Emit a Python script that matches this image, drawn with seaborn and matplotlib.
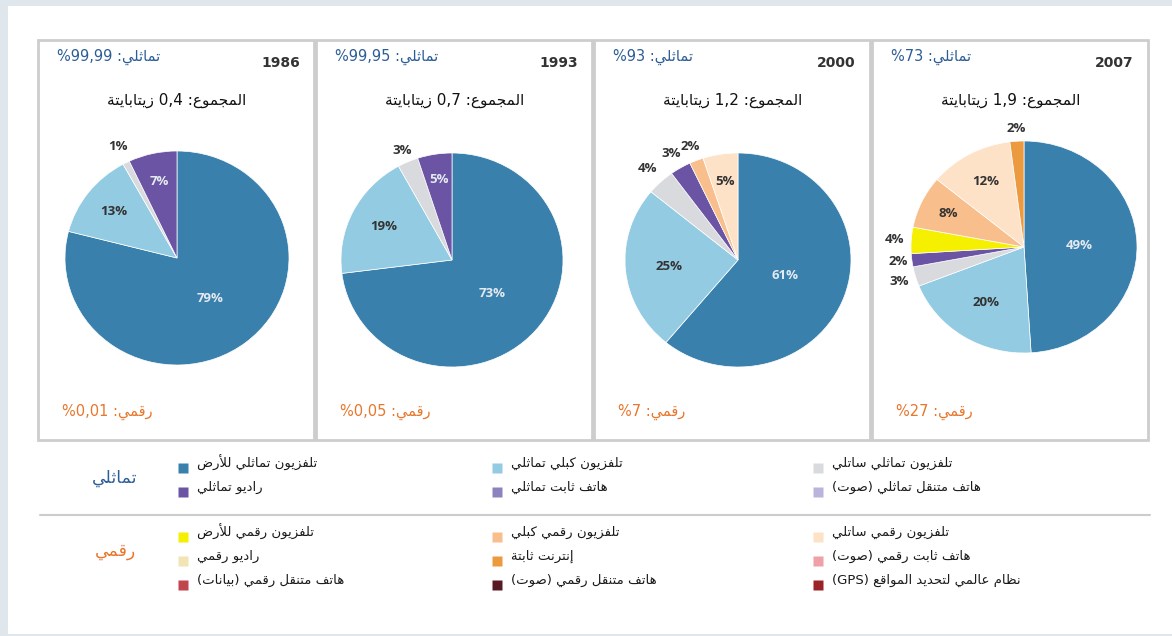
import matplotlib
matplotlib.use('Agg')
import matplotlib.pyplot as plt
import matplotlib.colors as mcolors
from matplotlib.patches import Rectangle
import numpy as np
import seaborn as sns

# ---- data -------------------------------------------------------------
years = ['1986', '1993', '2000', '2007']
analog_share = ['99,99%', '99,95%', '93%', '73%']
digital_share = ['0,01%', '0,05%', '7%', '27%']
totals = ['0,4', '0,7', '1,2', '1,9']

slices_1986 = [79, 13, 1, 7]
slices_1993 = [73, 19, 3, 5]
slices_2000 = [61, 25, 4, 3, 2, 5]
slices_2007 = [49, 20, 3, 2, 4, 8, 12, 2]
cats_1986 = ['a_terr', 'a_cable', 'a_sat', 'a_radio']
cats_1993 = ['a_terr', 'a_cable', 'a_sat', 'a_radio']
cats_2000 = ['a_terr', 'a_cable', 'a_sat', 'a_radio', 'd_cable', 'd_sat']
cats_2007 = ['a_terr', 'a_cable', 'a_sat', 'a_radio', 'd_terr', 'd_cable', 'd_sat', 'd_net']

analog_keys = ['a_terr', 'a_radio', 'a_cable', 'a_fixed', 'a_sat', 'a_mobile']
analog_labels = ['تلفزيون تماثلي للأرض', 'راديو تماثلي',
                 'تلفزيون كبلي تماثلي', 'هاتف ثابت تماثلي',
                 'تلفزيون تماثلي ساتلي', 'هاتف متنقل تماثلي (صوت)']
digital_keys = ['d_terr', 'd_radio', 'd_mdata', 'd_cable', 'd_net', 'd_mvoice',
                'd_sat', 'd_fixed', 'd_gps']
digital_labels = ['تلفزيون رقمي للأرض', 'راديو رقمي', 'هاتف متنقل رقمي (بيانات)',
                  'تلفزيون رقمي كبلي', 'إنترنت ثابتة', 'هاتف متنقل رقمي (صوت)',
                  'تلفزيون رقمي ساتلي', 'هاتف ثابت رقمي (صوت)',
                  'نظام عالمي لتحديد المواقع (GPS)']

colors = {
    'a_terr': '#3a80ad', 'a_cable': '#93cbe2', 'a_sat': '#d8dadd',
    'a_radio': '#6a54a3', 'a_fixed': '#8c82bd', 'a_mobile': '#b9b4d9',
    'd_terr': '#f4f000', 'd_cable': '#f8bf8c', 'd_sat': '#fde2c7',
    'd_radio': '#f3e4b5', 'd_net': '#ec9a3f', 'd_fixed': '#eea1a7',
    'd_mdata': '#c1454d', 'd_mvoice': '#571a25', 'd_gps': '#9a2327',
}

# ---- minimal arabic shaping + rtl ordering ---------------------------
BASE = {'ء': 0xFE80, 'آ': 0xFE81, 'أ': 0xFE83, 'ؤ': 0xFE85, 'إ': 0xFE87, 'ئ': 0xFE89,
        'ا': 0xFE8D, 'ب': 0xFE8F, 'ة': 0xFE93, 'ت': 0xFE95, 'ث': 0xFE99, 'ج': 0xFE9D,
        'ح': 0xFEA1, 'خ': 0xFEA5, 'د': 0xFEA9, 'ذ': 0xFEAB, 'ر': 0xFEAD, 'ز': 0xFEAF,
        'س': 0xFEB1, 'ش': 0xFEB5, 'ص': 0xFEB9, 'ض': 0xFEBD, 'ط': 0xFEC1, 'ظ': 0xFEC5,
        'ع': 0xFEC9, 'غ': 0xFECD, 'ف': 0xFED1, 'ق': 0xFED5, 'ك': 0xFED9, 'ل': 0xFEDD,
        'م': 0xFEE1, 'ن': 0xFEE5, 'ه': 0xFEE9, 'و': 0xFEED, 'ى': 0xFEEF, 'ي': 0xFEF1}
DUAL = set('ئبتثجحخسشصضطظعغفقكلمنهي')
RIGHT = set('آأؤإاةدذرزوى')
LAM_ALEF = {'آ': 0xFEF5, 'أ': 0xFEF7, 'إ': 0xFEF9, 'ا': 0xFEFB}


def shape(s):
    toks, i = [], 0
    while i < len(s):
        if s[i] == 'ل' and i + 1 < len(s) and s[i + 1] in LAM_ALEF:
            toks.append(('LA', s[i + 1]))
            i += 2
        else:
            toks.append(('C', s[i]))
            i += 1
    out = []
    for k, (t, c) in enumerate(toks):
        prev = toks[k - 1] if k > 0 else None
        nxt = toks[k + 1] if k + 1 < len(toks) else None
        jp = prev is not None and prev[0] == 'C' and prev[1] in DUAL
        if t == 'LA':
            out.append(chr(LAM_ALEF[c] + (1 if jp else 0)))
            continue
        if c not in BASE:
            out.append(c)
            continue
        jn = c in DUAL and nxt is not None and (nxt[0] == 'LA' or nxt[1] in DUAL or nxt[1] in RIGHT)
        if c in DUAL:
            form = 3 if (jp and jn) else 1 if jp else 2 if jn else 0
        elif c in RIGHT:
            form = 1 if jp else 0
        else:
            form = 0
        out.append(chr(BASE[c] + form))
    return ''.join(out)


def ar(s):
    s = shape(s)

    def cls(ch):
        if '\u0600' <= ch <= '\u06FF' or '\uFB50' <= ch <= '\uFEFF':
            return 'R'
        if ch.isascii() and ch.isalnum():
            return 'L'
        return 'N'
    c = [cls(ch) for ch in s]
    res = c[:]
    for i, k in enumerate(c):
        if k == 'N':
            left = next((c[j] for j in range(i - 1, -1, -1) if c[j] != 'N'), 'R')
            right = next((c[j] for j in range(i + 1, len(c)) if c[j] != 'N'), 'R')
            res[i] = 'L' if left == right == 'L' else 'R'
    runs = []
    for ch, k in zip(s, res):
        if runs and runs[-1][0] == k:
            runs[-1][1].append(ch)
        else:
            runs.append([k, [ch]])
    mirror = {'(': ')', ')': '('}
    out = []
    for k, chs in reversed(runs):
        if k == 'R':
            out.extend(mirror.get(ch, ch) for ch in reversed(chs))
        else:
            out.extend(chs)
    return ''.join(out)


# ---- figure -----------------------------------------------------------
sns.set_theme(style='white')
plt.rcParams['font.family'] = ['DejaVu Sans']

W, H = 1172, 636
fig = plt.figure(figsize=(W / 100, H / 100), dpi=100)
fig.patch.set_facecolor('#dfe6ec')
bg = fig.add_axes([0, 0, 1, 1])
bg.set_xlim(0, W)
bg.set_ylim(H, 0)
bg.axis('off')
bg.add_patch(Rectangle((8, 6), W - 8, 628, facecolor='white', edgecolor='none'))

BLUE = '#2c5d97'
ORANGE = '#e8762b'
AR = ['DejaVu Sans']

panel_x = [38, 316, 594, 872]
pies = [(177, 258, 112, 107), (452, 260, 111, 107), (738, 260, 113, 107), (1024, 247, 113, 106)]
dists = [[0.48, 0.71, 1.17, 0.73],
         [0.48, 0.69, 1.12, 0.76],
         [0.44, 0.61, 1.17, 1.16, 1.14, 0.74],
         [0.49, 0.62, 1.15, 1.12, 1.15, 0.74, 0.70, 1.12]]
all_slices = [slices_1986, slices_1993, slices_2000, slices_2007]
all_cats = [cats_1986, cats_1993, cats_2000, cats_2007]

for i, x0 in enumerate(panel_x):
    bg.add_patch(Rectangle((x0, 40), 276, 400, facecolor='white',
                           edgecolor='#cdcdcd', lw=2))
    bg.text(x0 + 262, 63, years[i], ha='right', va='center', fontsize=10,
            fontweight='bold', color='#333333')
    bg.text(x0 + 19, 57, ar('تماثلي: ' + analog_share[i]), ha='left', va='center',
            fontsize=10.5, color=BLUE, family=AR)
    bg.text(x0 + 139, 100, ar('المجموع: ' + totals[i] + ' زيتابايتة'), ha='center',
            va='center', fontsize=11, color='#111111', family=AR)
    bg.text(x0 + 24, 412, ar('رقمي: ' + digital_share[i]), ha='left', va='center',
            fontsize=10.5, color=ORANGE, family=AR)

    cx, cy, rx, ry = pies[i]
    ax = fig.add_axes([(cx - rx) / W, 1 - (cy + ry) / H, 2 * rx / W, 2 * ry / H])
    pal = sns.color_palette([colors[c] for c in all_cats[i]])
    wedges, _ = ax.pie(all_slices[i], colors=pal, startangle=90, counterclock=False,
                       radius=1, wedgeprops=dict(edgecolor='white', linewidth=0.5))
    ax.set_aspect('auto')
    ax.set_xlim(-1, 1)
    ax.set_ylim(-1, 1)
    ax.axis('off')
    for w, v, d, col in zip(wedges, all_slices[i], dists[i], pal):
        ang = np.deg2rad((w.theta1 + w.theta2) / 2)
        r, g, b = mcolors.to_rgb(col)
        lum = 0.299 * r + 0.587 * g + 0.114 * b
        tc = '#e4eaf1' if (lum < 0.5 and d < 1) else '#333333'
        ax.text(d * np.cos(ang), d * np.sin(ang), f'{v}%', ha='center', va='center',
                fontsize=9.5, fontweight='bold', color=tc, family=['Open Sans'])

# ---- legend -----------------------------------------------------------
bg.plot([40, 1150], [515, 515], color='#cccccc', lw=1.5)
bg.text(115, 478, ar('تماثلي'), ha='center', va='center', fontsize=12.5, color=BLUE, family=AR)
bg.text(115, 551, ar('رقمي'), ha='center', va='center', fontsize=12.5, color=ORANGE, family=AR)

col_x = [183, 497, 818]
for rows_y, keys, labels in [([468, 492], analog_keys, analog_labels),
                             ([537, 561, 585], digital_keys, digital_labels)]:
    n = len(rows_y)
    for j, (k, lab) in enumerate(zip(keys, labels)):
        mx = col_x[j // n]
        my = rows_y[j % n]
        bg.plot(mx, my, marker='s', ms=7, color=colors[k], mec='none')
        bg.text(mx + 14, my - 5, ar(lab), ha='left', va='center', fontsize=9.5,
                color='#1a1a1a', family=AR)

fig.savefig('out.png', dpi=100, facecolor=fig.get_facecolor())
